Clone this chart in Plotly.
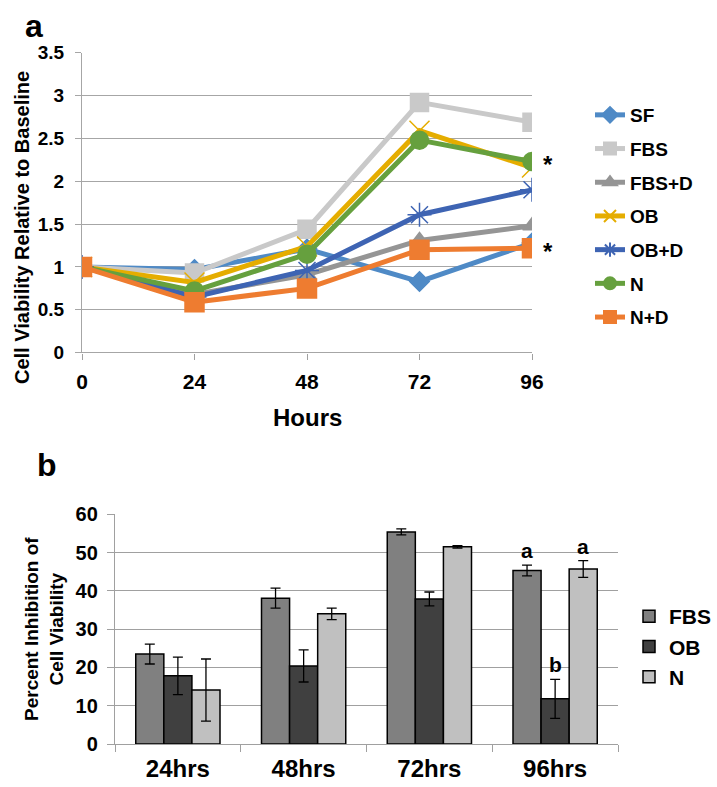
import plotly.graph_objects as go

# ---------------- data: panel a ----------------
hours = [0, 24, 48, 72, 96]
series_names = ["SF", "FBS", "FBS+D", "OB", "OB+D", "N", "N+D"]
sf = [1.0, 0.97, 1.21, 0.83, 1.28]
fbs = [1.0, 0.93, 1.44, 2.92, 2.69]
fbs_d = [1.0, 0.68, 0.91, 1.31, 1.48]
ob = [1.0, 0.82, 1.24, 2.59, 2.16]
ob_d = [1.0, 0.65, 0.96, 1.61, 1.90]
n = [1.0, 0.72, 1.15, 2.48, 2.23]
n_d = [1.0, 0.59, 0.75, 1.20, 1.22]
starred = ["N", "N+D"]

# ---------------- data: panel b ----------------
times = ["24hrs", "48hrs", "72hrs", "96hrs"]
group_names = ["FBS", "OB", "N"]
inh_fbs = [23.5, 38.1, 55.4, 45.3]
err_fbs = [2.6, 2.6, 0.8, 1.4]
inh_ob = [17.8, 20.4, 37.9, 11.8]
err_ob = [4.9, 4.2, 1.8, 5.1]
inh_n = [14.1, 34.0, 51.5, 45.7]
err_n = [8.1, 1.5, 0.3, 2.2]
sig_time = "96hrs"
sig_letters = ["a", "b", "a"]

FONT = "Liberation Sans, Arial, sans-serif"
W, H = 717, 787

def px_x(p):
    return p / W

def px_y(p):
    return 1 - p / H

line_vals = [sf, fbs, fbs_d, ob, ob_d, n, n_d]
colors = ["#4f8ac6", "#c9c9c9", "#959595", "#e5ad00", "#3e64b3", "#66a03e", "#ee7c30"]
symbols = ["diamond", "square", "triangle-up", "x-thin-open", "asterisk-open", "circle", "square"]
msizes = [15, 18, 16, 20, 20, 18, 19]

fig = go.Figure()
for name, vals, c, s, ms in zip(series_names, line_vals, colors, symbols, msizes):
    fig.add_trace(go.Scatter(
        x=hours, y=vals, name=name, mode="lines+markers",
        line=dict(color=c, width=5),
        marker=dict(symbol=s, size=ms, color=c, line=dict(color=c, width=1.5)),
        xaxis="x", yaxis="y", legend="legend", legendgroup=name,
    ))

bar_cols = ["#808080", "#404040", "#c0c0c0"]
for name, vals, errs, c in zip(group_names, [inh_fbs, inh_ob, inh_n], [err_fbs, err_ob, err_n], bar_cols):
    fig.add_trace(go.Bar(
        x=times, y=vals, name=name,
        marker=dict(color=c, line=dict(color="#000000", width=1.5)),
        error_y=dict(type="data", array=errs, color="#000000", thickness=1.3, width=5),
        xaxis="x2", yaxis="y2", legend="legend2",
    ))

bargap = 0.33
fig.update_layout(
    width=W, height=H,
    margin=dict(l=0, r=0, t=0, b=0, pad=0, autoexpand=False),
    paper_bgcolor="white", plot_bgcolor="white",
    font=dict(family=FONT, color="#000000"),
    barmode="group", bargap=bargap, bargroupgap=0,
    xaxis=dict(domain=[px_x(82), px_x(532)], anchor="y", range=[0, 96],
               tickvals=hours, showgrid=False, zeroline=False, automargin=False,
               showline=False, ticks="outside", ticklen=6, tickcolor="#a0a0a0",
               tickfont=dict(size=21, family=FONT, weight="bold"), ticklabelstandoff=4),
    yaxis=dict(domain=[px_y(352.7), px_y(52.7)], anchor="x", range=[0, 3.5], automargin=False,
               dtick=0.5, tickformat="~g", showgrid=True, gridcolor="#a6a6a6", gridwidth=1.3,
               zeroline=True, zerolinecolor="#a6a6a6", zerolinewidth=1.3,
               showline=True, linecolor="#a6a6a6", linewidth=1.3,
               ticks="outside", ticklen=6, tickcolor="#a6a6a6",
               tickfont=dict(size=19, family=FONT, weight="bold"), ticklabelstandoff=7),
    xaxis2=dict(domain=[px_x(115), px_x(618)], anchor="y2", type="category", automargin=False,
                showgrid=False, zeroline=False, showline=True, linecolor="#a0a0a0", linewidth=1.3,
                ticks="outside", tickson="boundaries", ticklen=7, tickcolor="#a0a0a0",
                tickfont=dict(size=24, family=FONT, weight="bold"), ticklabelstandoff=3),
    yaxis2=dict(domain=[px_y(744), px_y(514.3)], anchor="x2", range=[0, 60], dtick=10, automargin=False,
                showgrid=True, gridcolor="#a0a0a0", gridwidth=1.3, zeroline=False,
                showline=True, linecolor="#a0a0a0", linewidth=1.3,
                ticks="outside", ticklen=7, tickcolor="#a0a0a0",
                tickfont=dict(size=20, family=FONT, weight="bold"), ticklabelstandoff=5),
    legend=dict(x=px_x(590), y=px_y(96), xanchor="left", yanchor="top",
                font=dict(size=19, family=FONT, weight="bold"), tracegroupgap=6,
                bgcolor="rgba(0,0,0,0)", itemsizing="constant"),
    legend2=dict(x=px_x(629), y=px_y(596), xanchor="left", yanchor="top",
                 font=dict(size=21, family=FONT, weight="bold"),
                 bgcolor="rgba(0,0,0,0)"),
    showlegend=True,
)

def pann(text, xp, yp, size, angle=0):
    return dict(text=text, x=px_x(xp), y=px_y(yp), xref="paper", yref="paper",
                xanchor="center", yanchor="middle", textangle=angle, showarrow=False,
                font=dict(size=size, family=FONT))

ann = [
    pann("<b>a</b>", 34, 26, 32),
    pann("<b>b</b>", 47, 465, 32),
    pann("<b>Cell Viability Relative to Baseline</b>", 22, 228, 20, -90),
    pann("<b>Hours</b>", 307, 418, 24),
    pann("<b>Percent Inhibition of<br>Cell Viability</b>", 44, 629, 19, -90),
]
for name in starred:
    vals = line_vals[series_names.index(name)]
    ann.append(dict(text="<b>*</b>", x=hours[-1], y=vals[-1], xref="x", yref="y",
                    xanchor="left", yanchor="middle", xshift=9, yshift=-3, showarrow=False,
                    font=dict(size=24, family=FONT)))
ti = times.index(sig_time)
bw = (1 - bargap) / len(group_names)
for k, (letter, vals, errs) in enumerate(zip(sig_letters, [inh_fbs, inh_ob, inh_n], [err_fbs, err_ob, err_n])):
    ann.append(dict(text="<b>%s</b>" % letter, x=ti + (k - 1) * bw, y=vals[ti] + errs[ti],
                    xref="x2", yref="y2", xanchor="center", yanchor="bottom", yshift=1, showarrow=False,
                    font=dict(size=21, family=FONT)))
fig.update_layout(annotations=ann)

fig.write_html("out.html")
